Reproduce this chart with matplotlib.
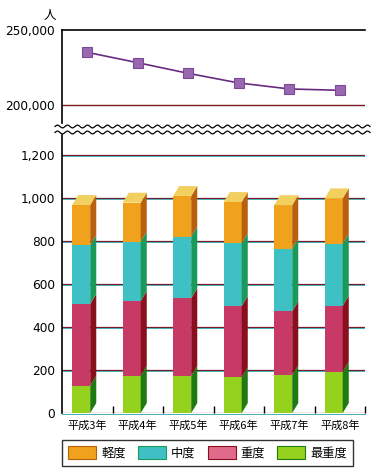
import numpy as np
import matplotlib
matplotlib.use('Agg')
import matplotlib.pyplot as plt
from matplotlib.patches import Polygon, Patch
from matplotlib.lines import Line2D
from matplotlib.ticker import FuncFormatter

plt.rcParams['font.family'] = ['Noto Sans CJK JP', 'DejaVu Sans']

# data
years = ['平成3年', '平成4年', '平成5年', '平成6年', '平成7年', '平成8年']
total = [235100, 228200, 221100, 214700, 210700, 209800]
saijudo = [127, 173, 173, 166, 176, 192]   # 最重度
judo = [379, 347, 360, 331, 296, 306]      # 重度
chudo = [273, 276, 286, 291, 291, 288]     # 中度
keido = [187, 181, 189, 192, 202, 211]     # 軽度

series = [('最重度', saijudo, '#94d21e', '#1f7a12', '#b8e060'),
          ('重度', judo, '#c83a66', '#8a0f1e', '#e06a8a'),
          ('中度', chudo, '#3ec0c4', '#1a9a5a', '#70d8d8'),
          ('軽度', keido, '#f0a21c', '#b8600e', '#f2d060')]

W, H = 378, 474
fig = plt.figure(figsize=(W / 100, H / 100), dpi=100)

def box(x0, y0, x1, y1):
    return [x0 / W, 1 - y1 / H, (x1 - x0) / W, (y1 - y0) / H]

x = np.arange(len(years))

# ---- top: total line ----
ax1 = fig.add_axes(box(62, 30, 365, 123))
ax1.plot(x, total, color='#6a2a80', lw=1.2, marker='s', ms=7,
         mfc='#9a68b0', mec='#7a4a98', mew=0.8, zorder=3)
ax1.set_xlim(-0.5, len(years) - 0.5)
ax1.set_ylim(188000, 250000)
ax1.axhline(250000, color='black', lw=1.2, clip_on=False)
ax1.axhline(200000, color='#7a1a22', lw=1.0)
ax1.set_yticks([200000, 250000])
ax1.yaxis.set_major_formatter(FuncFormatter(lambda v, p: f'{int(v):,}'))
ax1.set_xticks([])
for s in ['top', 'right', 'bottom']:
    ax1.spines[s].set_visible(False)
ax1.spines['left'].set_linewidth(1.2)
ax1.tick_params(axis='y', length=0, pad=5, labelsize=8.7)
for t in ax1.get_yticklabels():
    t.set_fontfamily('DejaVu Sans')
fig.text(50 / W, 1 - 15 / H, '人', ha='center', va='center', fontsize=9)

# ---- bottom: stacked 3D-ish bars ----
ax2 = fig.add_axes(box(62, 135, 365, 413))
ax2.set_xlim(-0.5, len(years) - 0.5)
ax2.set_ylim(0, 1291)
bw = 0.357
off = -0.12
dx, dy = 0.12, 46

for v in range(200, 1201, 200):
    ax2.axhline(v, color='#7a1a2a', lw=0.9, zorder=1)
    ax2.axhline(v - 4.5, color='#2aa8b0', lw=0.6, zorder=1)
ax2.axhline(0, color='#d07080', lw=1.0, zorder=1)
ax2.axhline(-4, color='#40b0b8', lw=0.7, zorder=1, clip_on=False)

bottom = np.zeros(len(years))
for k, (name, vals, front, side, top) in enumerate(series):
    vals = np.array(vals, dtype=float)
    ax2.bar(x + off, vals, bw, bottom=bottom, color=front, zorder=3)
    for i in range(len(years)):
        xr = x[i] + off + bw / 2
        y0, y1 = bottom[i], bottom[i] + vals[i]
        ax2.add_patch(Polygon([(xr, y0), (xr + dx, y0 + dy), (xr + dx, y1 + dy), (xr, y1)],
                              closed=True, fc=side, ec='none', zorder=3))
        if k == len(series) - 1:
            xl = x[i] + off - bw / 2
            ax2.add_patch(Polygon([(xl, y1), (xr, y1), (xr + dx, y1 + dy), (xl + dx, y1 + dy)],
                                  closed=True, fc=top, ec='none', zorder=3, clip_on=False))
    bottom += vals

ax2.set_yticks(range(0, 1201, 200))
ax2.yaxis.set_major_formatter(FuncFormatter(lambda v, p: f'{int(v):,}'))
ax2.set_xticks(x)
ax2.set_xticklabels(years)
ax2.set_xticks(np.arange(0.5, len(years)), minor=True)
ax2.tick_params(axis='x', which='major', length=0, pad=5, labelsize=8)
ax2.tick_params(axis='x', which='minor', direction='in', length=5, width=1, color='black')
ax2.tick_params(axis='y', length=0, pad=5, labelsize=8.7)
for t in ax2.get_yticklabels():
    t.set_fontfamily('DejaVu Sans')
for s in ['top', 'right', 'bottom']:
    ax2.spines[s].set_visible(False)
ax2.spines['left'].set_linewidth(1.2)

# wavy break marks
xs = np.linspace(55, 370, 400)
for yb in (126.5, 132.5):
    ys = yb + 1.4 * np.sin(2 * np.pi * xs / 10.0)
    fig.add_artist(Line2D(xs / W, 1 - ys / H, color='black', lw=0.9))

# legend
handles = [Patch(fc=s[2], ec=s[3], lw=0.8) for s in reversed(series)]
labels = [s[0] for s in reversed(series)]
handles[0] = Patch(fc='#f0a21c', ec='#b8600e', lw=0.8)
handles[2] = Patch(fc='#e06a8a', ec='#8a0f1e', lw=0.8)
leg = fig.legend(handles, labels, ncol=4, loc='upper left',
                 bbox_to_anchor=(62 / W, 1 - 440 / H), fontsize=8.8,
                 frameon=True, fancybox=False, edgecolor='black',
                 handlelength=2.3, handleheight=1.3, handletextpad=0.4,
                 columnspacing=1.0, borderpad=0.5, borderaxespad=0)
leg.get_frame().set_linewidth(1.0)

fig.savefig('out.png', dpi=100)
